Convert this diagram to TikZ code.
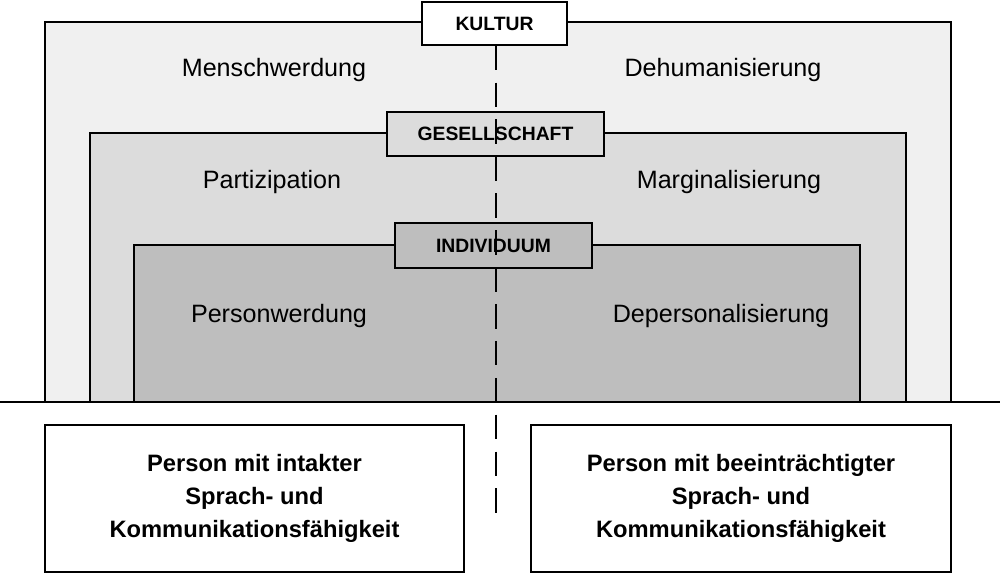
\documentclass[tikz,border=0pt]{standalone}
\usepackage{fontspec}
\setmainfont{Liberation Sans}
\definecolor{grayA}{HTML}{F0F0F0}
\definecolor{grayB}{HTML}{DCDCDC}
\definecolor{grayC}{HTML}{BEBEBE}
\tikzset{
  layer/.style={draw,line width=0.8pt},
  tag/.style={draw,line width=0.8pt,font=\fontsize{11}{13}\selectfont\bfseries,anchor=center,inner sep=0pt},
  zone/.style={font=\fontsize{14.3}{17}\selectfont},
  person/.style={draw,line width=0.8pt,fill=white,align=center,font=\fontsize{13.5}{19}\selectfont\bfseries,inner sep=0pt}
}
\begin{document}
\begin{tikzpicture}[x=0.02cm,y=-0.02cm]
   \useasboundingbox (0,0) rectangle (1000,573);
   % nested layers
   \draw[layer,fill=grayA] (45,402) |- (951,22) -- (951,402);
   \draw[layer,fill=grayB] (90,402) |- (906,133) -- (906,402);
   \draw[layer,fill=grayC] (134,402) |- (860,245) -- (860,402);
   \draw[line width=1.6pt] (0,402) -- (1000,402);
   % layer tags
   \node[tag,fill=white,minimum width=2.9cm,minimum height=0.86cm] (kultur) at (494.5,23.5) {KULTUR};
   \node[tag,fill=grayB,minimum width=4.34cm,minimum height=0.88cm] (gesell) at (495.5,134) {GESELLSCHAFT};
   \node[tag,fill=grayC,minimum width=3.94cm,minimum height=0.9cm] (indiv) at (493.5,245.5) {INDIVIDUUM};
   \coordinate (axisend) at (496,515);
   \draw[line width=1.6pt,dash pattern=on 14pt off 7pt] (kultur.south -| axisend) -- (axisend);
   % zone labels
   \node[zone] (mensch) at (274,70) {Menschwerdung};
   \node[zone] (dehum) at (723,70) {Dehumanisierung};
   \node[zone] (partiz) at (272,182) {Partizipation};
   \node[zone] (margin) at (729,182) {Marginalisierung};
   \node[zone] (personw) at (279,316) {Personwerdung};
   \node[zone] (depers) at (721,316) {Depersonalisierung};
   % persons
   \node[person,minimum width=8.38cm,minimum height=2.94cm] (intakt) at (254.5,498.5) {Person mit intakter\\Sprach- und\\Kommunikationsfähigkeit};
   \node[person,minimum width=8.4cm,minimum height=2.94cm] (beein) at (741,498.5) {Person mit beeinträchtigter\\Sprach- und\\Kommunikationsfähigkeit};
\end{tikzpicture}
\end{document}
